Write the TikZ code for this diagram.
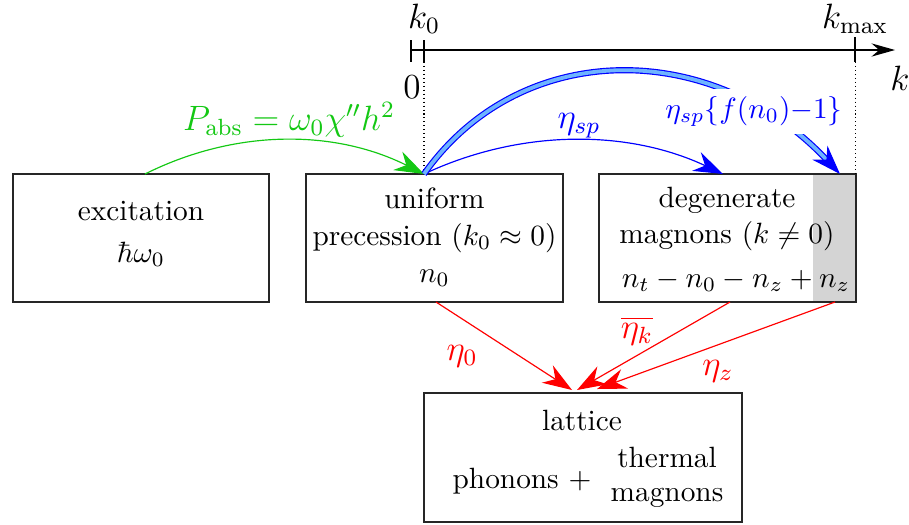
\documentclass[tikz,border=0pt]{standalone}
\usetikzlibrary{arrows.meta,fit}
\definecolor{mygreen}{RGB}{20,200,20}
\definecolor{lblue}{RGB}{110,180,255}
\begin{document}
\begin{tikzpicture}[x=0.341pt,y=-0.341pt,
  box/.style={draw=black!85, line width=0.5pt, inner sep=0pt},
  txt/.style={anchor=base, inner sep=0pt},
  lbl/.style={anchor=base, inner sep=0pt, font=\large},
  tip/.style={-{Stealth[length=10pt,width=7pt]}},
  axtip/.style={-{Stealth[length=8pt,width=4.5pt]}},
  thin line/.style={line width=0.4pt},
  ]
\useasboundingbox (0,0) rectangle (909,524);
% shaded part of degenerate box
\fill[black!17] (813,174) rectangle (856,302);
% boxes
\node[box, fit={(13,174) (269,302)}] (exc) {};
\node[box, fit={(306,174) (563,302)}] (uni) {};
\node[box, fit={(599,174) (856,302)}] (deg) {};
\node[box, fit={(424,393) (742,522)}] (lat) {};
% box texts
\node[txt] (t1) at (141,220) {excitation};
\node[txt] (t2) at (141,262) {$\hbar\omega_0$};
\node[txt] (u1) at (434.5,208) {uniform};
\node[txt] (u2) at (434.5,245) {precession $(k_0\approx 0)$};
\node[txt] (u3) at (434.5,282) {$n_0$};
\node[txt] (d1) at (727,207) {degenerate};
\node[txt] (d2) at (727,243) {magnons $(k\neq 0)$};
\node[txt] (d3) at (736,287) {$n_t-n_0-n_z+n_z$};
\node[txt] (l1) at (582,430) {lattice};
\node[txt] (l2) at (522,488) {phonons $+$};
\node[txt] (l3) at (667,467) {thermal};
\node[txt] (l4) at (667,501) {magnons};
% k axis
\coordinate (z0) at (411,50);
\coordinate (k0) at (424,50);
\coordinate (km) at (855,50);
\coordinate (kend) at (895,50);
\coordinate (src) at (424,174);
\coordinate (kmb) at (855,174);
\draw[thin line, axtip] (z0) -- (kend);
\draw[thin line] (z0) ++(0,-10) -- ++(0,22);
\draw[thin line] (k0) ++(0,-10) -- ++(0,22);
\draw[thin line] (km) ++(0,-13) -- ++(0,25);
\draw[densely dotted, line width=0.35pt] (k0) ++(0,12) -- (src);
\draw[densely dotted, line width=0.35pt] (km) ++(0,12) -- (kmb);
\node[lbl] (lk0) at (424,28) {$k_0$};
\node[lbl] (lz) at (412,98) {$0$};
\node[lbl] (lkm) at (855,28) {$k_{\max}$};
\node[lbl] (lk) at (900,90) {$k$};
% green absorption arrow
\coordinate (gs) at (145,174);
\draw[mygreen, thin line, tip] (gs) .. controls (235,129) and (334,129) .. (src);
\node[lbl, text=mygreen] (pabs) at (289,130) {$P_{\mathrm{abs}}=\omega_0\chi''h^2$};
% blue eta_sp arrow
\coordinate (be) at (723,174);
\draw[blue, thin line, tip] (src) .. controls (520,129) and (627,129) .. (be);
\node[lbl, text=blue] (esp) at (579,128) {$\eta_{sp}$};
% blue double arrow
\coordinate (de) at (840,174);
\draw[blue, line width=0.4pt, double=lblue, double distance=1.3pt, tip]
  (src) .. controls (520,38) and (712,38) .. (de);
\node[anchor=base, fill=white, inner sep=2.5pt, text=blue] (efn) at (754,118) {$\eta_{sp}\{f(n_0){-}1\}$};
% red arrows
\coordinate (r1s) at (436,302);
\coordinate (r2s) at (730,302);
\coordinate (r3s) at (835,302);
\coordinate (r1e) at (572,390);
\coordinate (r2e) at (577,390);
\coordinate (r3e) at (597,389);
\draw[red, thin line, tip] (r1s) -- (r1e);
\draw[red, thin line, tip] (r2s) -- (r2e);
\draw[red, thin line, tip] (r3s) -- (r3e);
\node[lbl, text=red] (e0) at (462,360) {$\eta_0$};
\node[lbl, text=red] (ek) at (637,338) {$\overline{\eta_k}$};
\node[lbl, text=red] (ez) at (718,375) {$\eta_z$};
\end{tikzpicture}
\end{document}
